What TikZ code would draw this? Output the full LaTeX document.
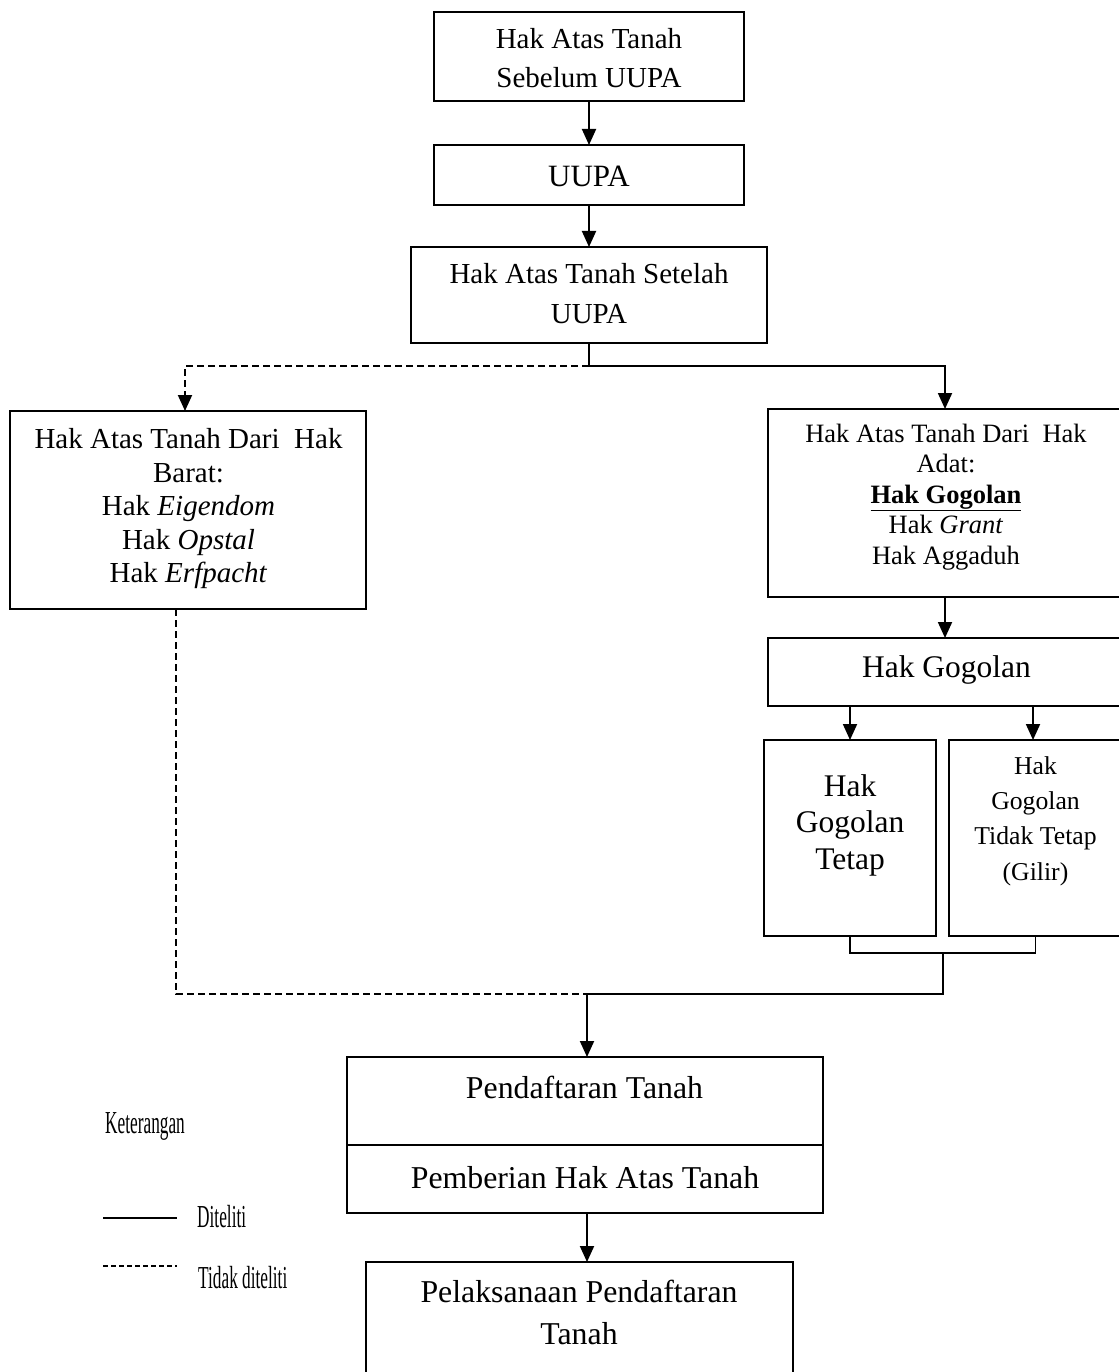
\documentclass[tikz,border=0pt]{standalone}
\usepackage{fontspec}
\usepackage{graphicx}
\setmainfont{Liberation Serif}
\usetikzlibrary{arrows.meta}
\begin{document}
\begin{tikzpicture}[x=1pt,y=-1pt,
  box/.style={draw,line width=1.7pt,rectangle,inner sep=0pt,outer sep=0pt},
  txt/.style={align=center,inner sep=0pt,outer sep=0pt},
  conn/.style={line width=1.9pt},
  arr/.style={conn,-{Triangle[width=14pt,length=16pt]}},
  dsh/.style={conn,dash pattern=on 7pt off 4pt},
  dsharr/.style={dsh,-{Triangle[width=14pt,length=16pt]}},
  lgd/.style={inner sep=0pt,anchor=base west}]
\useasboundingbox (0,0) rectangle (1118,1372);
\fill[white] (0,0) rectangle (1118,1372);

% boxes
\node[box,minimum width=310pt,minimum height=89pt] (b1) at (589,56.5) {};
\node[box,minimum width=310pt,minimum height=60pt] (b2) at (589,175) {};
\node[box,minimum width=356pt,minimum height=96pt] (b3) at (589,295) {};
\node[box,minimum width=356pt,minimum height=198pt] (b4) at (188,510) {};
\node[box,minimum width=354pt,minimum height=188pt] (b5) at (945,503) {};
\node[box,minimum width=354pt,minimum height=68pt] (b6) at (945,672) {};
\node[box,minimum width=172pt,minimum height=196pt] (b7) at (850,838) {};
\node[box,minimum width=173pt,minimum height=196pt] (b8) at (1035.5,838) {};
\node[box,minimum width=476pt,minimum height=88pt] (b9) at (585,1101) {};
\node[box,minimum width=476pt,minimum height=68pt] (b9b) at (585,1179) {};
\node[box,minimum width=427pt,minimum height=158pt] (b10) at (579.5,1341) {};

% texts
\node[txt,font=\fontsize{29}{39}\selectfont] (t1) at (589,58) {Hak Atas Tanah\\Sebelum UUPA};
\node[txt,font=\fontsize{31}{37}\selectfont] (t2) at (589,176) {UUPA};
\node[txt,font=\fontsize{29}{40}\selectfont] (t3) at (589,294) {Hak Atas Tanah Setelah\\UUPA};
\node[txt,font=\fontsize{29}{33.5}\selectfont] (t4) at (188.5,509) {Hak Atas Tanah Dari\ \ Hak\\Barat:\\Hak \textit{Eigendom}\\Hak \textit{Opstal}\\Hak \textit{Erfpacht}};
\node[txt,font=\fontsize{26.5}{30.5}\selectfont] (t5) at (946,497) {Hak Atas Tanah Dari\ \ Hak\\Adat:\\\textbf{\underline{Hak Gogolan}}\\Hak \textit{Grant}\\Hak Aggaduh};
\node[txt,font=\fontsize{31.5}{36}\selectfont] (t6) at (946.5,670) {Hak Gogolan};
\node[txt,font=\fontsize{31.5}{36.5}\selectfont] (t7) at (850,825) {Hak\\Gogolan\\Tetap};
\node[txt,font=\fontsize{25.7}{35.3}\selectfont] (t8) at (1035.5,821) {Hak\\Gogolan\\Tidak Tetap\\(Gilir)};
\node[txt,font=\fontsize{31.8}{42}\selectfont] (t9) at (584.5,1087) {Pendaftaran Tanah};
\node[txt,font=\fontsize{31.8}{42}\selectfont] (t9b) at (585,1178) {Pemberian Hak Atas Tanah};
\node[txt,font=\fontsize{31.8}{42}\selectfont] (t10) at (579,1312) {Pelaksanaan Pendaftaran\\Tanah};

% connectors
\draw[arr] (b1.south) -- (b2.north);
\draw[arr] (b2.south) -- (b3.north);
\coordinate (s1) at (589,366);
\draw[conn] (b3.south) -- (s1);
\draw[arr] (s1) -| (b5.north);
\draw[dsharr] (s1) -| ([xshift=-3pt]b4.north);
\draw[arr] (b5.south) -- (b6.north);
\draw[arr] (b7.north |- b6.south) -- (b7.north);
\draw[arr] ([xshift=-2.5pt]b8.north |- b6.south) -- ([xshift=-2.5pt]b8.north);
\coordinate (j1) at (943,953);
\coordinate (j2) at (943,994);
\coordinate (m) at (587,994);
\draw[conn] (b7.south) |- (j1) -| (b8.south);
\draw[conn] (j1) -- (j2) -- (m);
\draw[dsh] ([xshift=-12pt]b4.south) |- (m);
\draw[arr] (m) -- (m |- b9.north);
\draw[arr] ([xshift=2pt]b9b.south) -- ([xshift=2pt]b9b.south |- b10.north);

% legend
\node[lgd] (k) at (105,1133) {\scalebox{0.54}[1]{\fontsize{32}{32}\selectfont Keterangan}};
\coordinate (la) at (103,1218);
\coordinate (lb) at (177,1218);
\coordinate (lc) at (103,1266);
\coordinate (ld) at (177,1266);
\draw[line width=2pt] (la) -- (lb);
\draw[line width=1.6pt,dash pattern=on 5pt off 3pt] (lc) -- (ld);
\node[lgd] (l1) at (197,1227) {\scalebox{0.54}[1]{\fontsize{32}{32}\selectfont Diteliti}};
\node[lgd] (l2) at (198,1288) {\scalebox{0.54}[1]{\fontsize{32}{32}\selectfont Tidak diteliti}};
\end{tikzpicture}
\end{document}
